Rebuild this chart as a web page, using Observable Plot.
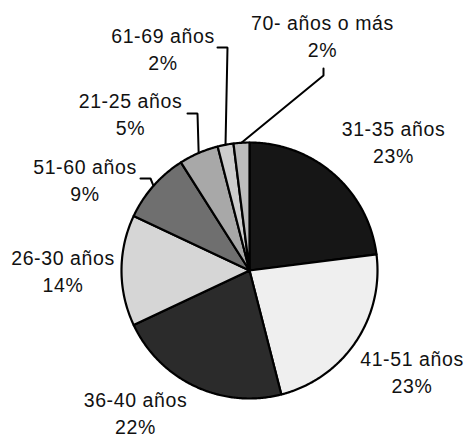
<!DOCTYPE html>
<html>
<head>
<meta charset="utf-8">
<script src="https://cdn.jsdelivr.net/npm/d3@7"></script>
<script src="https://cdn.jsdelivr.net/npm/@observablehq/plot@0.6"></script>
<style>
  html, body { margin: 0; padding: 0; background: #fff; }
  #chart svg { display: block; }
</style>
</head>
<body>
<div id="chart"></div>
<script>
// ---- data ----
const categories = ["31-35 años", "41-51 años", "36-40 años", "26-30 años", "51-60 años", "21-25 años", "61-69 años", "70- años o más"];
const shares = [23, 23, 22, 14, 9, 5, 2, 2];

// ---- styles / layout (not data) ----
const fills = ["#161616", "#efefef", "#2b2b2b", "#d6d6d6", "#6f6f6f", "#a8a8a8", "#cdcdcd", "#bcbcbc"];
const W = 466, H = 439, CX = 249, CY = 270, R = 128;
// label centres in pixels (x centre, first-line baseline)
const labelPx = [[393, 133], [411.5, 363], [135, 404], [62.5, 261.7], [84.5, 171], [130, 105], [162.5, 40], [322, 27.3]];
// leader line label-side points in pixels (only for some slices)
const leaderPx = {
  "51-60 años": [[140, 178], [150, 178]],
  "21-25 años": [[187, 113], [197, 113]],
  "61-69 años": [[217, 47], [227, 47]],
  "70- años o más": [[323, 68], [323, 75]]
};

const FS = 19.5, LH = 1.39;
const toX = px => (px - CX) / R;
const toY = py => (CY - py) / R;

const pie = d3.pie().sort(null).value(d => d.share).startAngle(0).endAngle(2 * Math.PI);
const table = categories.map((c, i) => ({category: c, share: shares[i]}));
const arcs = pie(table);

// slice outlines
const slicePts = [];
arcs.forEach(a => {
  const c = a.data.category;
  slicePts.push({category: c, x: 0, y: 0});
  const n = Math.max(2, Math.ceil((a.endAngle - a.startAngle) / 0.01));
  for (let k = 0; k <= n; k++) {
    const t = a.startAngle + (a.endAngle - a.startAngle) * k / n;
    slicePts.push({category: c, x: Math.sin(t), y: Math.cos(t)});
  }
  slicePts.push({category: c, x: 0, y: 0});
});

// labels
const labels = arcs.map((a, i) => ({
  category: a.data.category,
  text: a.data.category + "\n" + a.data.share + "%",
  x: toX(labelPx[i][0]),
  y: toY(labelPx[i][1] + FS * (LH / 2 - 0.32))
}));

// leader lines
const leaderPts = [];
arcs.forEach(a => {
  const c = a.data.category;
  if (!leaderPx[c]) return;
  leaderPx[c].forEach(p => leaderPts.push({category: c, x: toX(p[0]), y: toY(p[1])}));
  const m = (a.startAngle + a.endAngle) / 2;
  leaderPts.push({category: c, x: Math.sin(m), y: Math.cos(m)});
});

const chart = Plot.plot({
  width: W,
  height: H,
  margin: 0,
  x: {domain: [toX(0), toX(W)], axis: null},
  y: {domain: [toY(H), toY(0)], axis: null},
  color: {type: "ordinal", domain: categories, range: fills},
  style: {fontFamily: "'Liberation Sans', Arial, sans-serif", background: "#fff"},
  marks: [
    Plot.line(slicePts, {x: "x", y: "y", z: "category", fill: "category", stroke: "#000", strokeWidth: 2.2, strokeLinejoin: "round", curve: "linear"}),
    Plot.line(leaderPts, {x: "x", y: "y", z: "category", stroke: "#000", strokeWidth: 2, strokeLinejoin: "miter"}),
    Plot.text(labels, {x: "x", y: "y", text: "text", fontSize: FS, lineHeight: LH, lineAnchor: "middle", textAnchor: "middle", fill: "#111", stroke: null})
  ]
});
chart.querySelectorAll("text").forEach(t => t.style.letterSpacing = "0.6px");
document.getElementById("chart").appendChild(chart);
</script>
</body>
</html>
